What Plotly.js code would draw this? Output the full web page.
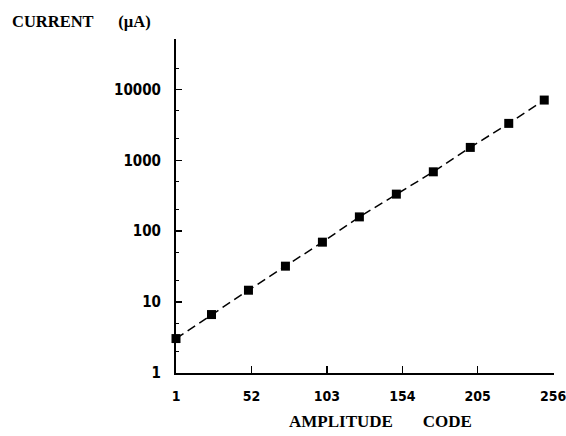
<!DOCTYPE html>
<html>
<head>
<meta charset="utf-8">
<script src="https://cdn.plot.ly/plotly-3.0.1.min.js"></script>
<style>html,body{margin:0;padding:0;background:#fff;}#chart{width:566px;height:436px;}</style>
</head>
<body>
<div id="chart"></div>
<script>
var amplitudeCode = [1, 25, 50, 75, 100, 125, 150, 175, 200, 226, 250];
var currentUA = [3.06, 6.67, 14.7, 32.1, 70, 159, 333, 687, 1518, 3311, 7063];
var xTickVals = [1, 52, 103, 154, 205, 256];
var xTickText = ['1', '52', '103', '154', '205', '256'];
var yTickVals = [1, 10, 100, 1000, 10000];
var yTickText = ['1', '10', '100', '1000', '10000'];

var tickFont = {family: 'DejaVu Sans Condensed', size: 14, color: '#000', weight: 'bold'};

var trace = {
  x: amplitudeCode,
  y: currentUA,
  type: 'scatter',
  mode: 'lines+markers',
  line: {color: '#000', width: 1.5, dash: '9px,5px'},
  marker: {symbol: 'square', size: 9, color: '#000'},
  hoverinfo: 'skip',
  showlegend: false,
  cliponaxis: false
};

var layout = {
  width: 566,
  height: 436,
  margin: {l: 176, r: 12, t: 39, b: 63, pad: 0},
  paper_bgcolor: '#fff',
  plot_bgcolor: '#fff',
  title: {
    text: 'CURRENT\u00a0\u00a0\u00a0\u00a0\u00a0\u00a0(\u00b5A)',
    font: {family: 'Liberation Serif', size: 16.5, color: '#000', weight: 'bold'},
    xref: 'container', yref: 'container',
    x: 12 / 566, xanchor: 'left',
    y: 1 - 21 / 436, yanchor: 'middle'
  },
  xaxis: {
    type: 'linear',
    range: [1, 256.6],
    tickmode: 'array',
    tickvals: xTickVals,
    ticktext: xTickText,
    ticks: 'inside',
    ticklen: 7,
    tickwidth: 1.5,
    tickcolor: '#000',
    showline: true,
    linecolor: '#000',
    linewidth: 1.5,
    showgrid: false,
    zeroline: false,
    tickfont: tickFont,
    ticklabelstandoff: 10,
    ticklabeloverflow: 'allow',
    title: {text: ''}
  },
  yaxis: {
    type: 'log',
    range: [0, 4.71],
    tickmode: 'array',
    tickvals: yTickVals,
    ticktext: yTickText,
    ticks: 'inside',
    ticklen: 6,
    tickwidth: 1.5,
    tickcolor: '#000',
    showline: true,
    linecolor: '#000',
    linewidth: 2,
    showgrid: false,
    zeroline: false,
    tickfont: {family: 'DejaVu Sans Condensed', size: 15, color: '#000', weight: 'bold'},
    ticklabelstandoff: 10,
    minor: {dtick: 'D2', ticks: 'inside', ticklen: 3, tickwidth: 1, tickcolor: '#000', showgrid: false},
    title: {text: ''}
  },
  annotations: [{
    text: 'AMPLITUDE\u00a0\u00a0\u00a0\u00a0\u00a0\u00a0\u00a0CODE',
    xref: 'paper', yref: 'paper',
    x: (380 - 176) / 378, xanchor: 'center',
    y: -(421 - 373) / 334, yanchor: 'middle',
    showarrow: false,
    font: {family: 'Liberation Serif', size: 17, color: '#000', weight: 'bold'}
  }]
};

Plotly.newPlot('chart', [trace], layout, {staticPlot: true, displayModeBar: false});
</script>
</body>
</html>
